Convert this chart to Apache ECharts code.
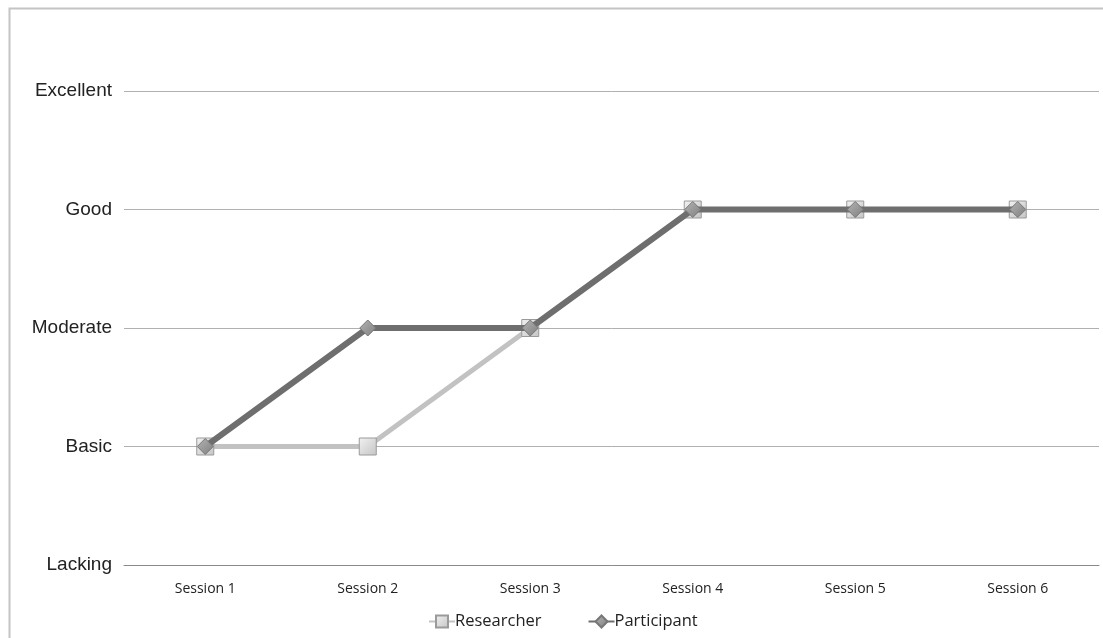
<!DOCTYPE html>
<html>
<head>
<meta charset="utf-8">
<script src="https://cdn.jsdelivr.net/npm/echarts@6/dist/echarts.min.js"></script>
<style>
html,body{margin:0;padding:0;background:#fff;}
#chart{width:1103px;height:638px;}
</style>
</head>
<body>
<div id="chart"></div>
<script>
const categories = ['Session 1','Session 2','Session 3','Session 4','Session 5','Session 6'];
const levelLabels = ['Lacking','Basic','Moderate','Good','Excellent'];
const researcher = [1,1,2,3,3,3];
const participant = [1,2,2,3,3,3];

const chart = echarts.init(document.getElementById('chart'));
chart.setOption({
  animation:false,
  backgroundColor:'#ffffff',
  graphic:[{
    type:'rect', left:7, top:6,
    shape:{x:0,y:0,width:1120,height:660},
    style:{fill:'none', stroke:'#c4c4c4', lineWidth:2}
  }],
  grid:{left:124, right:4, top:91, bottom:73, containLabel:false},
  legend:{
    bottom:3, left:423,
    itemWidth:26, itemHeight:15, itemGap:46,
    textStyle:{fontFamily:'Open Sans, sans-serif', fontSize:16.5, color:'#222', padding:[0,0,0,-5]},
    data:['Researcher','Participant']
  },
  xAxis:{
    type:'category', data:categories, boundaryGap:true,
    axisLine:{lineStyle:{color:'#8a8a8a', width:1}},
    axisTick:{show:false},
    axisLabel:{fontFamily:'Open Sans, sans-serif', fontSize:14, color:'#222', margin:17}
  },
  yAxis:{
    type:'value', min:0, max:4, interval:1,
    axisLine:{show:false}, axisTick:{show:false},
    splitLine:{lineStyle:{color:'#b0b0b0', width:1}},
    axisLabel:{fontFamily:'Liberation Sans, Arial, sans-serif', fontSize:19, color:'#222', margin:12,
      formatter:v=>levelLabels[v]}
  },
  series:[
    {
      name:'Researcher', type:'line', data:researcher,
      symbol:'rect', symbolSize:17,
      lineStyle:{color:'#c2c2c2', width:5},
      itemStyle:{color:new echarts.graphic.LinearGradient(0,0,1,1,[{offset:0,color:'#f2f2f2'},{offset:1,color:'#c4c4c4'}]), borderColor:'#9a9a9a', borderWidth:1},
      z:2
    },
    {
      name:'Participant', type:'line', data:participant,
      symbol:'diamond', symbolSize:[16,16],
      lineStyle:{color:'#6e6e6e', width:6},
      itemStyle:{color:new echarts.graphic.LinearGradient(0,0,1,1,[{offset:0,color:'#b5b5b5'},{offset:1,color:'#7e7e7e'}]), borderColor:'#777', borderWidth:1},
      z:3
    }
  ]
});
</script>
</body>
</html>
